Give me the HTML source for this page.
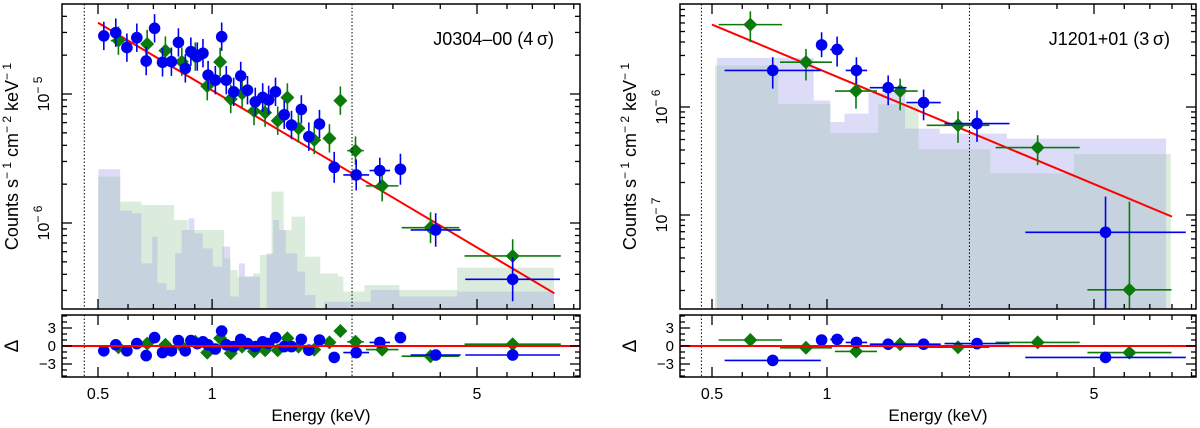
<!DOCTYPE html>
<html><head><meta charset="utf-8"><style>
html,body{margin:0;padding:0;background:#fff}
svg{display:block;font-family:"Liberation Sans",sans-serif}
</style></head><body>
<svg id="chart" width="1200" height="428" viewBox="0 0 1200 428" xmlns="http://www.w3.org/2000/svg"></svg>
<script>
// ===== Left panel data (J0304-00) =====
const L_blueE=[0.518,0.557,0.596,0.633,0.670,0.705,0.740,0.781,0.815,0.850,0.879,0.914,0.946,0.976,1.02,1.06,1.09,1.14,1.19,1.24,1.30,1.36,1.41,1.47,1.55,1.62,1.72,1.80,1.92,2.10,2.40,2.77,3.14,3.89,6.21];
const L_blueF=[2.82e-5,2.99e-5,2.29e-5,2.73e-5,1.80e-5,3.23e-5,1.76e-5,1.78e-5,2.51e-5,1.58e-5,2.13e-5,1.95e-5,2.07e-5,1.40e-5,1.28e-5,2.78e-5,1.28e-5,1.04e-5,1.38e-5,1.07e-5,0.87e-5,0.94e-5,0.90e-5,1.04e-5,0.69e-5,0.575e-5,0.76e-5,0.467e-5,0.585e-5,0.270e-5,0.236e-5,0.255e-5,0.261e-5,0.0883e-5,0.0366e-5];
const L_blueXerr=[0.012,0.012,0.012,0.012,0.012,0.012,0.012,0.012,0.010,0.010,0.010,0.010,0.010,0.010,0.010,0.010,0.010,0.010,0.010,0.010,0.010,0.010,0.010,0.010,0.010,0.010,0.010,0.010,0.012,0.015,0.034,0.027,0.015,0.066,0.125];
const L_blueYerr=[0.11,0.11,0.11,0.11,0.11,0.11,0.11,0.11,0.11,0.11,0.11,0.11,0.11,0.11,0.11,0.11,0.11,0.11,0.11,0.11,0.11,0.11,0.11,0.11,0.11,0.11,0.11,0.11,0.11,0.12,0.12,0.1,0.12,0.13,0.17];
const L_blueR=[-0.8,0.2,-0.8,0.4,-1.6,1.4,-1.1,-0.8,0.9,-0.8,0.9,0.4,0.7,0.2,-0.5,2.5,0.2,-0.1,1.1,0.4,-0.1,0.7,0.4,1.4,-0.1,-0.1,1.1,-0.7,1.0,-1.9,-1.1,0.6,1.4,-1.5,-1.5];
const L_greenE=[0.566,0.674,0.753,0.832,0.903,0.971,1.05,1.12,1.20,1.29,1.38,1.49,1.58,1.69,1.86,2.04,2.18,2.39,2.81,3.77,6.21];
const L_greenF=[2.59e-5,2.44e-5,2.17e-5,1.78e-5,1.95e-5,1.15e-5,1.77e-5,0.915e-5,1.01e-5,0.738e-5,0.717e-5,0.621e-5,0.94e-5,0.542e-5,0.440e-5,0.453e-5,0.888e-5,0.364e-5,0.194e-5,0.092e-5,0.0555e-5];
const L_greenXerr=[0.02,0.012,0.012,0.012,0.012,0.010,0.010,0.010,0.010,0.010,0.010,0.010,0.010,0.010,0.010,0.010,0.010,0.022,0.043,0.076,0.127];
const L_greenYerr=[0.11,0.11,0.11,0.11,0.11,0.11,0.11,0.11,0.11,0.11,0.11,0.11,0.11,0.11,0.11,0.11,0.11,0.11,0.12,0.12,0.13];
const L_greenR=[-0.2,0.4,0.2,-0.1,0.7,-1.1,1.3,-1.2,-0.1,-0.9,-0.7,-0.7,1.3,-0.1,-0.6,0.6,2.5,0.7,-0.6,-1.7,0.3];
const L_bgBlueEdges=[0.501,0.572,0.614,0.651,0.695,0.718,0.758,0.799,0.831,0.866,0.898,0.945,1.004,1.063,1.116,1.177,1.221,1.275,1.338,1.392,1.449,1.503,1.564,1.678,1.759,1.873,1.977,2.62,3.12,4.43,7.98];
const L_bgBlueF=[2.61e-6,1.25e-6,1.19e-6,0.486e-6,0.784e-6,0.341e-6,0.303e-6,0.582e-6,0.883e-6,1.087e-6,0.832e-6,0.636e-6,0.459e-6,0.656e-6,0.269e-6,0.486e-6,0.384e-6,0.384e-6,0.218e-6,0.582e-6,1.055e-6,0.883e-6,0.582e-6,0.420e-6,0.277e-6,0.218e-6,0.245e-6,0.303e-6,0.269e-6,0.294e-6];
const L_bgGreenEdges=[0.501,0.572,0.651,0.794,0.862,0.925,1.076,1.116,1.168,1.283,1.338,1.435,1.545,1.62,1.759,1.93,2.15,2.22,2.525,3.12,4.43,7.98];
const L_bgGreenF=[2.29e-6,1.46e-6,1.38e-6,1.055e-6,0.883e-6,0.883e-6,0.532e-6,0.432e-6,0.384e-6,0.407e-6,0.565e-6,1.75e-6,0.883e-6,1.12e-6,0.548e-6,0.407e-6,0.384e-6,0.294e-6,0.330e-6,0.303e-6,0.451e-6];
const L_modelE=[0.5,8.0];
const L_modelF=[3.57e-5,2.85e-7];

// ===== Right panel data (J1201+01) =====
const R_blueE=[0.721,0.968,1.063,1.194,1.446,1.79,2.47,5.36];
const R_blueF=[2.18e-6,3.76e-6,3.41e-6,2.18e-6,1.51e-6,1.10e-6,0.702e-6,0.0692e-6];
const R_blueYlo=[1.48e-6,2.89e-6,2.37e-6,1.64e-6,1.04e-6,0.753e-6,0.475e-6,0.001e-6];
const R_blueYhi=[2.89e-6,4.92e-6,4.49e-6,2.89e-6,1.96e-6,1.45e-6,0.931e-6,0.148e-6];
const R_blueXerr=[0.126,0.013,0.018,0.028,0.048,0.045,0.085,0.21];
const R_blueR=[-2.4,1.0,1.1,0.6,0.3,0.3,0.4,-1.9];
const R_greenE=[0.630,0.881,1.191,1.554,2.203,3.56,6.19];
const R_greenF=[5.79e-6,2.60e-6,1.405e-6,1.405e-6,0.677e-6,0.421e-6,0.0203e-6];
const R_greenYlo=[3.98e-6,1.76e-6,0.965e-6,0.931e-6,0.466e-6,0.29e-6,0.001e-6];
const R_greenYhi=[7.69e-6,3.45e-6,1.96e-6,1.83e-6,0.912e-6,0.548e-6,0.133e-6];
const R_greenXerr=[0.083,0.068,0.055,0.046,0.082,0.11,0.11];
const R_greenR=[1.0,-0.3,-0.9,0.3,-0.2,0.6,-1.1];
const R_bgBlueEdges=[0.515,0.923,1.020,1.111,1.285,1.601,1.972,2.957,7.72];
const R_bgBlueF=[2.85e-6,1.15e-6,0.727e-6,0.868e-6,1.35e-6,0.631e-6,0.567e-6,0.510e-6];
const R_bgGreenEdges=[0.509,0.746,1.020,1.362,1.737,2.677,4.43,7.94];
const R_bgGreenF=[2.42e-6,1.07e-6,0.575e-6,1.06e-6,0.407e-6,0.243e-6,0.366e-6];
const R_modelE=[0.5,8.0];
const R_modelF=[5.8e-6,9.66e-8];

const xTickMajor=[0.5,1,5];
const xTickLabels=["0.5","1","5"];
const xTickMinor=[0.6,0.7,0.8,0.9,2,3,4,6,7,8,9];
const rTicks=[3,0,-3];
const rTickLabels=["3","0","\u22123"];

const NS="http://www.w3.org/2000/svg";
const svg=document.getElementById('chart');
function mk(tag,attrs,parent){const e=document.createElementNS(NS,tag);for(const k in attrs)e.setAttribute(k,attrs[k]);(parent||svg).appendChild(e);return e;}

function panel(cfg){
  const g=mk('g',{});
  
  
  const X=E=>cfg.x05+cfg.dec*Math.log10(E/0.5);
  const Y=F=>cfg.yRef-cfg.ydec*(Math.log10(F)-cfg.refExp);
  const R=r=>346-6*r;
  const clipId=cfg.id+'clip', clipR=cfg.id+'clipr';
  const defs=mk('defs',{},g);
  const cp=mk('clipPath',{id:clipId},defs);mk('rect',{x:cfg.x0,y:cfg.y0,width:cfg.x1-cfg.x0,height:cfg.y1-cfg.y0},cp);
  const cr=mk('clipPath',{id:clipR},defs);mk('rect',{x:cfg.x0,y:315,width:cfg.x1-cfg.x0,height:62},cr);
  const main=mk('g',{'clip-path':`url(#${clipId})`},g);
  function hist(edges,vals,color,nm){
    let d='';
    for(let i=0;i<vals.length;i++){
      const xa=X(edges[i]),xb=X(edges[i+1]),y=Y(vals[i]);
      d+=`M${xa},${cfg.y1}V${y}H${xb}V${cfg.y1}Z`;
    }
    const p=mk('path',{d:d,fill:color},main);
    
    
  }
  hist(cfg.bgBE,cfg.bgBF,'#dcdcf8','background-hist-blue');
  hist(cfg.bgGE,cfg.bgGF,'#dcecdc','background-hist-green');
  const all=[...new Set([...cfg.bgBE,...cfg.bgGE])].sort((a,b)=>a-b);
  function valAt(edges,vals,e){for(let i=0;i<vals.length;i++){if(e>=edges[i]&&e<edges[i+1])return vals[i];}return null;}
  let od='';
  for(let i=0;i<all.length-1;i++){
    const m=Math.sqrt(all[i]*all[i+1]);
    const a=valAt(cfg.bgBE,cfg.bgBF,m),b=valAt(cfg.bgGE,cfg.bgGF,m);
    if(a===null||b===null)continue;
    od+=`M${X(all[i])},${cfg.y1}V${Y(Math.min(a,b))}H${X(all[i+1])}V${cfg.y1}Z`;
  }
  const ov=mk('path',{d:od,fill:'#c6d2dd'},main);
  
  
  [cfg.dot1,cfg.dot2].forEach(e=>{
    const l=mk('line',{x1:X(e),x2:X(e),y1:cfg.y0,y2:cfg.y1,stroke:'#000','stroke-width':1,'stroke-dasharray':'1.5,2'},g);
    
    
    const l2=mk('line',{x1:X(e),x2:X(e),y1:315,y2:377,stroke:'#000','stroke-width':1,'stroke-dasharray':'1.5,2'},g);
    
    
  });
  const mdl=mk('line',{x1:X(cfg.mE[0]),y1:Y(cfg.mF[0]),x2:X(cfg.mE[1]),y2:Y(cfg.mF[1]),stroke:'#f00','stroke-width':2},main);
  
  
  function series(s,color,shape){
    for(let i=0;i<s.E.length;i++){
      const x=X(s.E[i]),y=Y(s.F[i]);
      const xa=X(s.E[i]/Math.pow(10,s.xe[i])),xb=X(s.E[i]*Math.pow(10,s.xe[i]));
      let ya,yb;
      if(s.ylo){ya=Y(s.yhi[i]);yb=Y(s.ylo[i]);}else{ya=Y(s.F[i]*Math.pow(10,s.ye[i]));yb=Y(s.F[i]/Math.pow(10,s.ye[i]));}
      const pg=mk('g',{},main);
      
      
      mk('line',{x1:xa,x2:xb,y1:y,y2:y,stroke:color,'stroke-width':1.6},pg);
      mk('line',{x1:x,x2:x,y1:ya,y2:yb,stroke:color,'stroke-width':1.6},pg);
      marker(pg,x,y,color,shape);
      const ry=R(s.R[i]);
      const rg=mk('g',{'clip-path':`url(#${clipR})`},g);
      
      
      mk('line',{x1:xa,x2:xb,y1:ry,y2:ry,stroke:color,'stroke-width':1.6},rg);
      marker(rg,x,ry,color,shape);
    }
  }
  function marker(p,x,y,color,shape){
    if(shape==='c')mk('circle',{cx:x,cy:y,r:5.8,fill:color},p);
    else mk('path',{d:`M${x},${y-7}L${x+7},${y}L${x},${y+7}L${x-7},${y}Z`,fill:color},p);
  }
  series(cfg.green,'#0a7a0a','d');
  series(cfg.blue,'#0000f0','c');
  const zl=mk('line',{x1:cfg.x0,x2:cfg.x1,y1:R(0),y2:R(0),stroke:'#f00','stroke-width':2},g);
  
  
  const f1=mk('rect',{x:cfg.x0,y:cfg.y0,width:cfg.x1-cfg.x0,height:cfg.y1-cfg.y0,fill:'none',stroke:'#000','stroke-width':1.5},g);
  
  const f2=mk('rect',{x:cfg.x0,y:315,width:cfg.x1-cfg.x0,height:62,fill:'none',stroke:'#000','stroke-width':1.5},g);
  
  const tk=mk('g',{stroke:'#000','stroke-width':1.3},g);
  
  xTickMajor.forEach(e=>{const x=X(e);[[cfg.y0,cfg.y0+10],[cfg.y1,cfg.y1-10],[315,325],[377,367]].forEach(([a,b])=>mk('line',{x1:x,x2:x,y1:a,y2:b},tk));});
  xTickMinor.forEach(e=>{const x=X(e);if(x>cfg.x1)return;[[cfg.y0,cfg.y0+5],[cfg.y1,cfg.y1-5],[315,320],[377,372]].forEach(([a,b])=>mk('line',{x1:x,x2:x,y1:a,y2:b},tk));});
  xTickMajor.forEach((e,i)=>{const t=mk('text',{x:X(e),y:399,'font-size':16,'text-anchor':'middle'},g);t.textContent=xTickLabels[i];
    });
  const xt=mk('text',{x:(cfg.x0+cfg.x1)/2,y:421,'font-size':17,'text-anchor':'middle'},g);xt.textContent='Energy (keV)';
  
  const yt=mk('g',{stroke:'#000','stroke-width':1.3},g);
  
  for(let ex=cfg.refExp-3;ex<=cfg.refExp+2;ex++){
    for(let m=1;m<10;m++){
      const y=Y(m*Math.pow(10,ex));
      if(y<cfg.y0||y>cfg.y1)continue;
      const len=m===1?10:5;
      mk('line',{x1:cfg.x0,x2:cfg.x0+len,y1:y,y2:y},yt);
      mk('line',{x1:cfg.x1,x2:cfg.x1-len,y1:y,y2:y},yt);
    }
  }
  cfg.yLabelExps.forEach(ex=>{
    const y=Y(Math.pow(10,ex));
    const t=mk('text',{transform:`translate(${cfg.x0-13},${y}) rotate(-90)`,'font-size':16,'text-anchor':'middle'},g);
    
    const a=mk('tspan',{},t);a.textContent='10';
    const b=mk('tspan',{dy:-7,'font-size':12},t);b.textContent='\u2212 '+Math.abs(ex);
  });
  for(let r=-5;r<=5;r++){
    const y=R(r);const len=r%3===0?10:5;
    mk('line',{x1:cfg.x0,x2:cfg.x0+len,y1:y,y2:y},yt);
    mk('line',{x1:cfg.x1,x2:cfg.x1-len,y1:y,y2:y},yt);
  }
  rTicks.forEach((r,i)=>{const t=mk('text',{x:cfg.x0-6,y:R(r)+5,'font-size':15,'text-anchor':'end'},g);t.textContent=rTickLabels[i];
    });
  const dl=mk('text',{transform:`translate(${cfg.x0-44},346) rotate(-90)`,'font-size':19,'text-anchor':'middle'},g);dl.textContent='\u0394';
  
  const ytt=mk('text',{transform:`translate(${cfg.x0-44},${(cfg.y0+cfg.y1)/2}) rotate(-90)`,'font-size':18,'text-anchor':'middle'},g);
  
  const parts=[['Counts s',0,18],['\u2212 1',-7,12],[' cm',7,18],['\u2212 2',-7,12],[' keV',7,18],['\u2212 1',-7,12]];
  parts.forEach(([s,dy,fs])=>{const ts=mk('tspan',{dy:dy,'font-size':fs},ytt);ts.textContent=s;});
  const tt=mk('text',{x:cfg.x1-26,y:45,'font-size':18,'text-anchor':'end'},g);tt.textContent=cfg.title;
  
}

panel({id:'L',name:'panel-j0304',x0:62,x1:580,y0:4,y1:309,x05:98,dec:379,yRef:94,ydec:129,refExp:-5,
  yLabelExps:[-5,-6],dot1:0.46,dot2:2.34,mE:L_modelE,mF:L_modelF,
  bgBE:L_bgBlueEdges,bgBF:L_bgBlueF,bgGE:L_bgGreenEdges,bgGF:L_bgGreenF,
  blue:{E:L_blueE,F:L_blueF,xe:L_blueXerr,ye:L_blueYerr,R:L_blueR},
  green:{E:L_greenE,F:L_greenF,xe:L_greenXerr,ye:L_greenYerr,R:L_greenR},
  title:'J0304\u201300 (4\u2009\u03c3)'});
panel({id:'R',name:'panel-j1201',x0:680,x1:1196,y0:4,y1:309,x05:712,dec:382,yRef:107,ydec:108,refExp:-6,
  yLabelExps:[-6,-7],dot1:0.469,dot2:2.36,mE:R_modelE,mF:R_modelF,
  bgBE:R_bgBlueEdges,bgBF:R_bgBlueF,bgGE:R_bgGreenEdges,bgGF:R_bgGreenF,
  blue:{E:R_blueE,F:R_blueF,xe:R_blueXerr,ylo:R_blueYlo,yhi:R_blueYhi,R:R_blueR},
  green:{E:R_greenE,F:R_greenF,xe:R_greenXerr,ylo:R_greenYlo,yhi:R_greenYhi,R:R_greenR},
  title:'J1201+01 (3\u2009\u03c3)'});
</script>
</body></html>
